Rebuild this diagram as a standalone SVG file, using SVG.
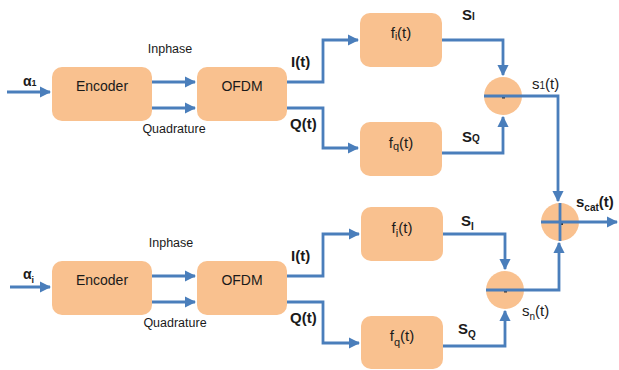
<svg xmlns="http://www.w3.org/2000/svg" width="619" height="370" viewBox="0 0 619 370">
<style>
.box{fill:#F9C18F;stroke:none}
.ln{fill:none;stroke:#4A7EBB;stroke-width:2.8}
.t{font-family:"Liberation Sans",Arial,sans-serif;fill:#1a1a1a}
.n{font-size:14px;text-anchor:middle}
.f{font-size:15px;text-anchor:middle}
.l{font-size:12.5px;text-anchor:middle}
.b{font-size:15px;font-weight:bold}
.s{font-size:15px}
</style>
<defs>
<marker id="ah" markerWidth="4" markerHeight="4" refX="3.6" refY="2" orient="auto" markerUnits="strokeWidth">
<path d="M0,0 L4,2 L0,4 z" fill="#4A7EBB"/>
</marker>
</defs>
<rect x="0" y="0" width="619" height="370" fill="#ffffff"/>

<g id="enc1"><rect class="box" x="52" y="67" width="100" height="54" rx="10"/><text class="t n" x="102" y="91">Encoder</text></g>
<g id="ofdm1"><rect class="box" x="197" y="67" width="90" height="54" rx="10"/><text class="t n" x="242" y="91">OFDM</text></g>
<g id="fi1"><rect class="box" x="360" y="13" width="82" height="54" rx="10"/><text class="t f" x="401" y="38">f<tspan style="font-size:10px" dy="2">i</tspan><tspan dy="-2">(t)</tspan></text></g>
<g id="fq1"><rect class="box" x="360" y="122" width="82" height="54" rx="10"/><text class="t f" x="401" y="148">f<tspan style="font-size:11px" dy="2">q</tspan><tspan dy="-2">(t)</tspan></text></g>
<g id="sum1"><circle class="box" cx="503" cy="96" r="19"/><rect x="502" y="97" width="3" height="1.5" fill="#333"/></g>

<g id="enc2"><rect class="box" x="52" y="261" width="100" height="54" rx="10"/><text class="t n" x="102" y="285">Encoder</text></g>
<g id="ofdm2"><rect class="box" x="197" y="261" width="90" height="54" rx="10"/><text class="t n" x="242" y="285">OFDM</text></g>
<g id="fi2"><rect class="box" x="361" y="207" width="82" height="54" rx="10"/><text class="t f" x="402" y="233">f<tspan style="font-size:11px" dy="4">i</tspan><tspan dy="-4">(t)</tspan></text></g>
<g id="fq2"><rect class="box" x="361" y="316" width="82" height="53" rx="10"/><text class="t f" x="402" y="341">f<tspan style="font-size:11px" dy="5">q</tspan><tspan dy="-5">(t)</tspan></text></g>
<g id="sum2"><circle class="box" cx="505" cy="290" r="19"/><rect x="504" y="291" width="3" height="1.5" fill="#333"/></g>

<g id="sumcat"><circle class="box" cx="560" cy="222" r="19"/><rect x="560" y="223" width="3" height="2" fill="#333"/></g>

<g id="connectors">
<path class="ln" d="M7,92 H50" marker-end="url(#ah)"/>
<path class="ln" d="M152,82 H195" marker-end="url(#ah)"/>
<path class="ln" d="M152,108 H195" marker-end="url(#ah)"/>
<path class="ln" d="M287,82 H323 V40 H358" marker-end="url(#ah)"/>
<path class="ln" d="M287,108 H323 V148 H358" marker-end="url(#ah)"/>
<path class="ln" d="M442,40 H503 V75" marker-end="url(#ah)"/>
<path class="ln" d="M442,153 H503 V117" marker-end="url(#ah)"/>
<path class="ln" d="M484,96 H558 V201" marker-end="url(#ah)"/>

<path class="ln" d="M10,287 H50" marker-end="url(#ah)"/>
<path class="ln" d="M152,276 H195" marker-end="url(#ah)"/>
<path class="ln" d="M152,302 H195" marker-end="url(#ah)"/>
<path class="ln" d="M287,276 H323 V234 H359" marker-end="url(#ah)"/>
<path class="ln" d="M287,302 H323 V343 H359" marker-end="url(#ah)"/>
<path class="ln" d="M443,234 H505 V269" marker-end="url(#ah)"/>
<path class="ln" d="M443,346 H505 V311" marker-end="url(#ah)"/>
<path class="ln" d="M486,290 H559 V243" marker-end="url(#ah)"/>

<path class="ln" d="M560,203 V241"/>
<path class="ln" d="M541,222 H617" marker-end="url(#ah)"/>
</g>

<g id="labels">
<text class="t b" x="23" y="86" style="font-size:14px">α<tspan style="font-size:9px">1</tspan></text>
<text class="t l" x="170" y="53">Inphase</text>
<text class="t l" x="174" y="133">Quadrature</text>
<text class="t b" x="291" y="67">I(t)</text>
<text class="t b" x="290" y="129">Q(t)</text>
<text class="t b" x="462" y="20">S<tspan style="font-size:10px">I</tspan></text>
<text class="t b" x="462" y="142">S<tspan style="font-size:10px">Q</tspan></text>
<text class="t s" x="532" y="89">s<tspan style="font-size:10px">1</tspan>(t)</text>

<text class="t b" x="23" y="279" style="font-size:14px">α<tspan style="font-size:9px" dy="4">i</tspan></text>
<text class="t l" x="171" y="247">Inphase</text>
<text class="t l" x="175" y="327">Quadrature</text>
<text class="t b" x="291" y="261">I(t)</text>
<text class="t b" x="290" y="323">Q(t)</text>
<text class="t b" x="461" y="226">S<tspan style="font-size:10px" dy="4">I</tspan></text>
<text class="t b" x="458" y="334">S<tspan style="font-size:10px" dy="4">Q</tspan></text>
<text class="t s" x="522" y="316">s<tspan style="font-size:10px" dy="4">n</tspan><tspan dy="-4">(t)</tspan></text>
<text class="t b" x="576" y="207">s<tspan style="font-size:10px" dy="4">cat</tspan><tspan dy="-4">(t)</tspan></text>
</g>
</svg>
